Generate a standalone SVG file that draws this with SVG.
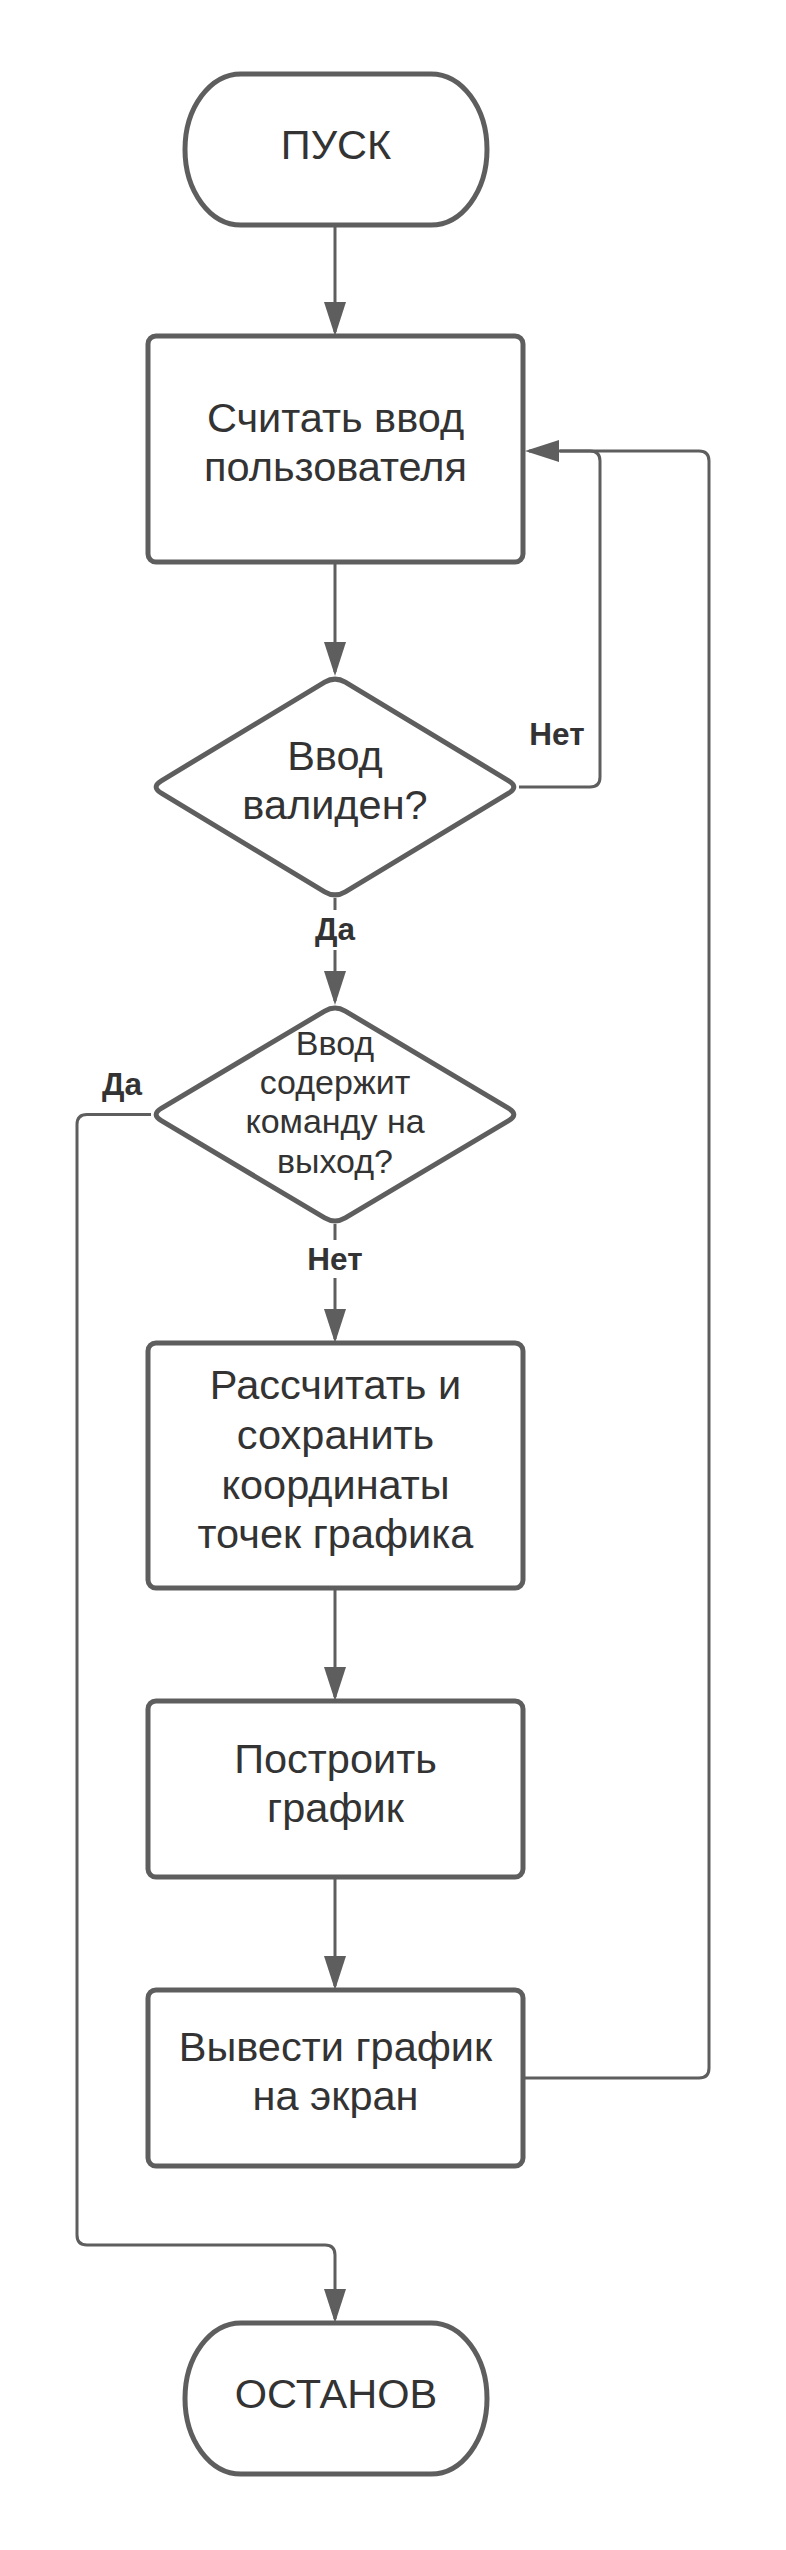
<svg xmlns="http://www.w3.org/2000/svg" width="786" height="2550" viewBox="0 0 786 2550">
<defs>
<style>
.node{fill:#ffffff;stroke:#5e5e5e;stroke-width:5}
.conn{fill:none;stroke:#5e5e5e;stroke-width:3}
.t{font-family:"Liberation Sans",Arial,sans-serif;font-size:41.5px;fill:#333333;text-anchor:middle}
.ts{font-family:"Liberation Sans",Arial,sans-serif;font-size:34px;fill:#333333;text-anchor:middle}
.lbl{font-family:"Liberation Sans",Arial,sans-serif;font-size:31.5px;font-weight:bold;fill:#333333;text-anchor:middle}
</style>
<marker id="arr" viewBox="0 0 34 22" refX="30" refY="11" markerWidth="34" markerHeight="22" markerUnits="userSpaceOnUse" orient="auto">
<path d="M0,0 L34,11 L0,22 Z" fill="#5e5e5e"/>
</marker>
</defs>
<rect width="786" height="2550" fill="#ffffff"/>
<g id="connectors">
<path class="conn" d="M335,225 V332" marker-end="url(#arr)"/>
<path class="conn" d="M335,562 V672" marker-end="url(#arr)"/>
<path class="conn" d="M335,898 V1001" marker-end="url(#arr)"/>
<path class="conn" d="M335,1224 V1339" marker-end="url(#arr)"/>
<path class="conn" d="M335,1588 V1697" marker-end="url(#arr)"/>
<path class="conn" d="M335,1877 V1986" marker-end="url(#arr)"/>
<path class="conn" d="M523,2078 H699 Q709,2078 709,2068 V461 Q709,451 699,451 H560"/>
<path class="conn" d="M519,787 H590 Q600,787 600,777 V461 Q600,451 590,451 H529" marker-end="url(#arr)"/>
<path class="conn" d="M151,1114.5 H87 Q77,1114.5 77,1124.5 V2235 Q77,2245 87,2245 H325 Q335,2245 335,2255 V2319" marker-end="url(#arr)"/>
<rect x="305" y="910" width="60" height="40" fill="#ffffff"/>
<text class="lbl" x="335" y="940">Да</text>
<rect x="300" y="1240" width="70" height="38" fill="#ffffff"/>
<text class="lbl" x="335" y="1270">Нет</text>
<text class="lbl" x="557" y="745">Нет</text>
<text class="lbl" x="122" y="1095">Да</text>
</g>
<g id="start">
<rect class="node" x="185" y="74" width="302" height="151" rx="56" ry="75.5"/>
<text class="t" x="336" y="159">ПУСК</text>
</g>
<g id="read-input">
<rect class="node" x="148" y="336" width="375" height="226" rx="8"/>
<text class="t" x="335.5" y="432">Считать ввод</text>
<text class="t" x="335.5" y="481">пользователя</text>
</g>
<g id="valid-check">
<path class="node" d="M324.7,682.2 Q335,676 345.3,682.2 L508.7,780.8 Q519,787 508.7,793.2 L345.3,891.8 Q335,898 324.7,891.8 L161.3,793.2 Q151,787 161.3,780.8 Z"/>
<text class="t" x="335" y="770">Ввод</text>
<text class="t" x="335" y="819">валиден?</text>
</g>
<g id="exit-check">
<path class="node" d="M324.7,1011.1 Q335,1005 345.3,1011.1 L508.7,1108.4 Q519,1114.5 508.7,1120.6 L345.3,1217.9 Q335,1224 324.7,1217.9 L161.3,1120.6 Q151,1114.5 161.3,1108.4 Z"/>
<text class="ts" x="335" y="1055">Ввод</text>
<text class="ts" x="335" y="1094">содержит</text>
<text class="ts" x="335" y="1133">команду на</text>
<text class="ts" x="335" y="1173">выход?</text>
</g>
<g id="compute">
<rect class="node" x="148" y="1343" width="375" height="245" rx="8"/>
<text class="t" x="335.5" y="1399">Рассчитать и</text>
<text class="t" x="335.5" y="1449">сохранить</text>
<text class="t" x="335.5" y="1499">координаты</text>
<text class="t" x="335.5" y="1548">точек графика</text>
</g>
<g id="build">
<rect class="node" x="148" y="1701" width="375" height="176" rx="8"/>
<text class="t" x="335.5" y="1773">Построить</text>
<text class="t" x="335.5" y="1822">график</text>
</g>
<g id="display">
<rect class="node" x="148" y="1990" width="375" height="176" rx="8"/>
<text class="t" x="335.5" y="2061">Вывести график</text>
<text class="t" x="335.5" y="2110">на экран</text>
</g>
<g id="stop">
<rect class="node" x="185" y="2323" width="302" height="151" rx="56" ry="75.5"/>
<text class="t" x="336" y="2408">ОСТАНОВ</text>
</g>
</svg>
